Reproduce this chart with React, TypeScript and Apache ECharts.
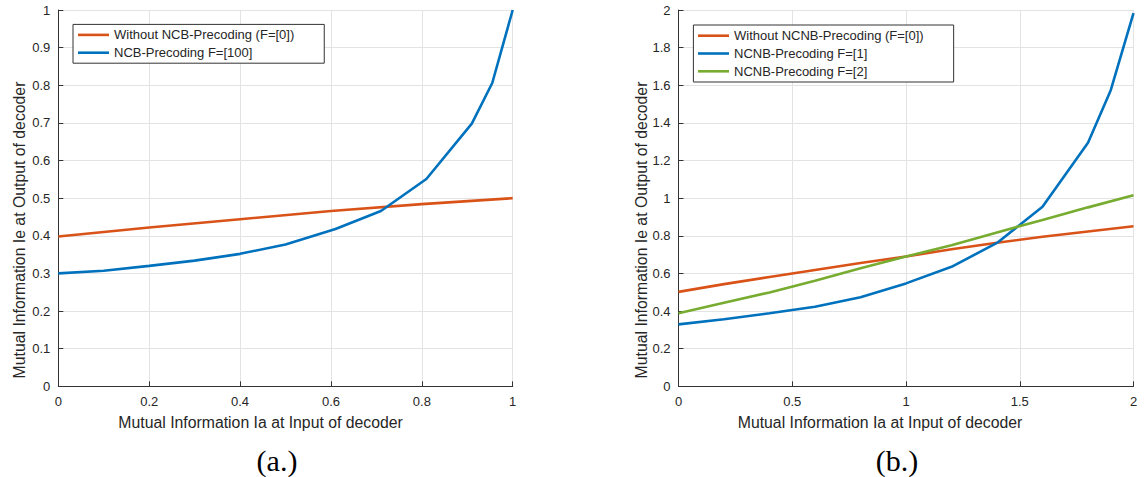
import React, { useEffect, useRef } from "react";
import * as echarts from "echarts";

// Panel (a.)
const xA_without = [0, 0.2, 0.4, 0.6, 0.8, 1.0];
const yA_without = [0.398, 0.422, 0.444, 0.466, 0.484, 0.5];
const xA_ncb = [0, 0.1, 0.2, 0.3, 0.4, 0.5, 0.61, 0.71, 0.81, 0.91, 0.955, 1.0];
const yA_ncb = [0.3, 0.307, 0.32, 0.334, 0.352, 0.377, 0.418, 0.466, 0.551, 0.698, 0.806, 1.0];

// Panel (b.)
const xB = [0, 0.2, 0.4, 0.6, 0.8, 1.0, 1.2, 1.4, 1.6, 1.8, 2.0];
const yB_without = [0.502, 0.543, 0.581, 0.618, 0.655, 0.69, 0.728, 0.763, 0.795, 0.823, 0.851];
const yB_f2 = [0.388, 0.444, 0.499, 0.561, 0.627, 0.69, 0.75, 0.818, 0.884, 0.951, 1.015];
const xB_f1 = [0, 0.2, 0.4, 0.6, 0.8, 1.0, 1.2, 1.4, 1.6, 1.8, 1.9, 2.0];
const yB_f1 = [0.329, 0.356, 0.388, 0.423, 0.473, 0.547, 0.635, 0.762, 0.954, 1.294, 1.574, 1.984];

const namesA = ["Without NCB-Precoding (F=[0])", "NCB-Precoding F=[100]"];
const namesB = ["Without NCNB-Precoding (F=[0])", "NCNB-Precoding F=[1]", "NCNB-Precoding F=[2]"];
const xTitle = "Mutual Information Ia at Input of decoder";
const yTitle = "Mutual Information Ie at Output of decoder";
const captions = ["(a.)", "(b.)"];

const ORANGE = "#D95319";
const BLUE = "#0072BD";
const GREEN = "#77AC30";
const FONT = "Liberation Sans, Arial, Helvetica, sans-serif";
const TXT = "#262626";

const zip = (xs: number[], ys: number[]) => xs.map((x, i) => [x, ys[i]]);

function axisCommon(min: number, max: number, interval: number, isX: boolean) {
  return {
    type: "value",
    min,
    max,
    interval,
    axisLine: { show: true, onZero: false, lineStyle: { color: "#333333", width: 1 } },
    axisTick: { show: true, inside: true, length: 5, lineStyle: { color: "#333333", width: 1 } },
    axisLabel: {
      color: TXT,
      fontFamily: FONT,
      fontSize: 13,
      margin: isX ? 9 : 8,
      showMinLabel: true,
      showMaxLabel: true,
    },
    splitLine: { show: true, lineStyle: { color: "#e3e3e3", width: 1 } },
  };
}

export default function App() {
  const ref = useRef<HTMLDivElement>(null);
  useEffect(() => {
    if (!ref.current) return;
    const chart = echarts.init(ref.current, null, { renderer: "svg" });
    const line = (name: string, data: number[][], color: string, idx: number) => ({
      type: "line",
      name,
      data,
      xAxisIndex: idx,
      yAxisIndex: idx,
      showSymbol: false,
      symbol: "none",
      smooth: false,
      lineStyle: { color, width: 2.6 },
      itemStyle: { color },
      z: 3,
    });
    const legendBase = {
      orient: "vertical",
      icon: "rect",
      itemWidth: 31,
      itemHeight: 2.6,
      itemGap: 0,
      backgroundColor: "#ffffff",
      borderColor: "#333333",
      borderWidth: 1,
      borderRadius: 0,
      textStyle: { color: TXT, fontFamily: FONT, fontSize: 13, lineHeight: 17.8 },
      selectedMode: false,
    };
    const titleText = (text: string, x: number, y: number, rot: number) => ({
      type: "text",
      x,
      y,
      rotation: rot,
      style: {
        text,
        fill: TXT,
        font: `15.8px ${FONT}`,
        textAlign: "center",
        textVerticalAlign: "middle",
      },
    });
    chart.setOption({
      animation: false,
      backgroundColor: "#ffffff",
      grid: [
        { left: 58.3, top: 10, width: 454.4, height: 376.3, containLabel: false },
        { left: 678.5, top: 10, width: 455, height: 376.3, containLabel: false },
      ],
      xAxis: [
        { ...axisCommon(0, 1, 0.2, true), gridIndex: 0 },
        { ...axisCommon(0, 2, 0.5, true), gridIndex: 1 },
      ],
      yAxis: [
        { ...axisCommon(0, 1, 0.1, false), gridIndex: 0 },
        { ...axisCommon(0, 2, 0.2, false), gridIndex: 1 },
      ],
      legend: [
        { ...legendBase, data: namesA, left: 73, top: 24.4, padding: [1.6, 30, 1.6, 5] },
        { ...legendBase, data: namesB, left: 693.4, top: 25, padding: [1.8, 30, 1.8, 4.6] },
      ],
      series: [
        line(namesA[0], zip(xA_without, yA_without), ORANGE, 0),
        line(namesA[1], zip(xA_ncb, yA_ncb), BLUE, 0),
        line(namesB[0], zip(xB, yB_without), ORANGE, 1),
        line(namesB[1], zip(xB_f1, yB_f1), BLUE, 1),
        line(namesB[2], zip(xB, yB_f2), GREEN, 1),
      ],
      graphic: [
        titleText(xTitle, 260.6, 422.8, 0),
        titleText(xTitle, 880, 422.8, 0),
        titleText(yTitle, 19.5, 230, Math.PI / 2),
        titleText(yTitle, 641, 230, Math.PI / 2),
        {
          type: "text",
          x: 277,
          y: 460,
          style: {
            text: captions[0],
            fill: "#000000",
            font: "30px Liberation Serif, Times New Roman, serif",
            textAlign: "center",
            textVerticalAlign: "middle",
          },
        },
        {
          type: "text",
          x: 897,
          y: 460,
          style: {
            text: captions[1],
            fill: "#000000",
            font: "30px Liberation Serif, Times New Roman, serif",
            textAlign: "center",
            textVerticalAlign: "middle",
          },
        },
      ],
    });
    return () => chart.dispose();
  }, []);
  return (
    <div
      ref={ref}
      style={{ position: "absolute", left: 0, top: 0, width: 1145, height: 477, background: "#fff" }}
    />
  );
}
